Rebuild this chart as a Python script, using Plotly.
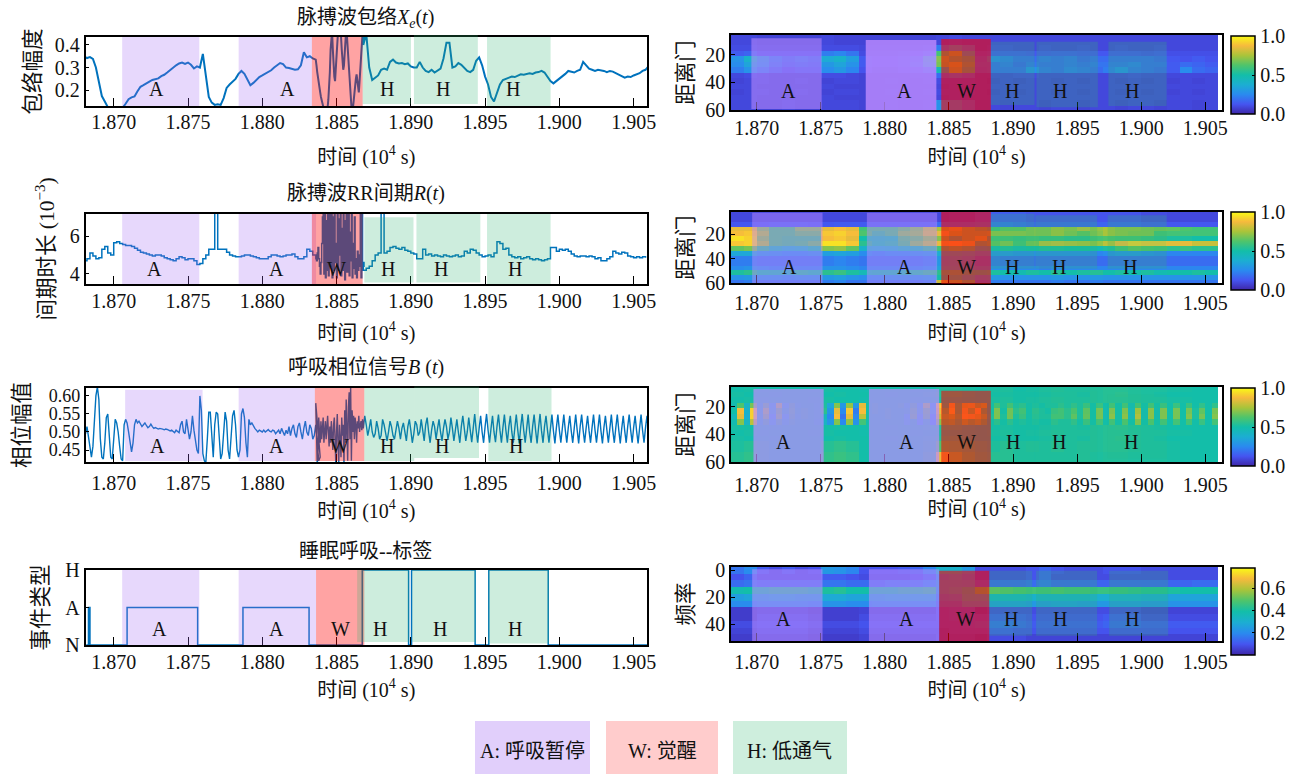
import numpy as np
import plotly.graph_objects as go

W_PX, H_PX = 1300, 774
FONT = "Liberation Serif, Noto Sans CJK SC"
LINE = "#0072BD"
PARULA = [[0, "#3e26a8"], [.125, "#4555f0"], [.25, "#2a8aef"], [.375, "#1caed2"], [.5, "#13bea9"],
          [.625, "#4fc46b"], [.75, "#a9c43a"], [.875, "#f6ba3d"], [1, "#f9fb15"]]
TICKS_T = [1.870, 1.875, 1.880, 1.885, 1.890, 1.895, 1.900, 1.905]
TICK_TEXT = ["1.870", "1.875", "1.880", "1.885", "1.890", "1.895", "1.900", "1.905"]

# ---- envelope X_e(t), thousandths
env_pre = [350,342,346,338,300,235,174,150,125,120,120,120,118,122,140,160,168,172,195,215,222,232,238,245,250,252,262,268,278,290,298,310,318,322,316,322,312,296,305,300,360,265,170,145,135,138,135,165,210,225,240,250,272,285,272,250,222,232,245,258,265,272,280,288,300,312,320,315,300,298,295,290,292,310,368,345,350,340,335]
env_w = [330,310,280,250,230,210,190,170,150,130,120,115,115,120,125,118,125,160,200,280,380,450,460,380,300,260,240,300,380,450,460,455,450,460,440,380,300,290,310,420,460,470,440,380,300,250,210,180,130,115,120,150,200,230,250,270,240,200,190,240,300,380,430,450,440,420]
env_post = [400,450,300,245,255,265,290,295,290,325,335,322,318,320,315,318,305,300,300,325,300,285,280,290,278,285,295,340,410,410,300,305,320,312,300,285,280,290,330,345,310,260,225,170,150,190,225,245,250,255,260,258,265,270,268,270,275,272,278,280,285,278,260,240,230,240,250,262,272,285,280,278,285,290,325,310,295,290,285,290,288,285,280,285,282,275,270,262,255,260,258,265,270,275,285,290,305,285]

# ---- RR interval R(t), hundredths of 1e-3
rr_pre = [470,480,510,495,480,485,530,545,510,500,565,570,560,555,550,550,545,535,525,515,510,505,500,495,500,500,495,485,480,475,470,480,490,485,475,480,480,470,450,455,480,500,530,530,800,530,530,530,515,500,495,490,490,495,500,500,495,490,485,480,480,480,490,500,500,495,490,495,500,500,505,490,480,480,490,530,520,500,480]
rr_w = [480,470,510,540,480,440,400,460,560,700,760,400,740,380,680,420,760,390,720,440,620,760,380,700,420,760,460,560,380,760,420,690,500,760,390,640,420,760,470,370,680,760,410,500,720,390,620,470,760,380,560,430,700,400,480,380,520,420,500,440,760,380,760,420,460,440]
rr_post = [420,430,440,470,500,510,800,510,520,540,545,535,530,540,525,520,510,505,480,480,530,500,505,495,500,495,490,500,495,490,495,500,490,495,520,510,530,525,510,500,490,495,500,490,510,570,560,530,535,500,490,485,490,480,485,490,480,475,480,475,470,475,480,540,540,520,530,525,530,520,505,495,490,495,495,490,495,490,480,485,470,470,480,490,520,510,505,515,510,495,490,485,490,485,490,485]

# ---- respiration phase B(t), thousandths
resp_pre = [510,495,515,490,455,430,460,530,600,625,590,480,430,425,470,540,550,490,430,425,480,535,525,500,460,425,420,520,535,525,500,470,445,470,520,535,525,530,520,515,520,525,518,512,515,522,515,510,512,510,508,510,510,508,506,508,507,505,503,505,500,498,505,500,498,520,530,500,495,535,500,480,500,545,505,470,450,440,600,560,440,420,415,480,555,555,500,430,520,555,550,470,425,440,510,555,530,450,425,480,545,560,520,450,430,450,550,565,540,470,430,535,520,525,515,510,505,500,505,503,500,505,500,503,507,502,500,505,503,495,500,505,495,510,500,490,505,495,515,490,510,520,495,485,515,525,500,480,510,530,500,490,520,510,480,490,520,470,420,430]
resp_w = [580,500,410,440,540,500,470,530,480,510,540,470,500,530,480,520,545,500,460,515,470,530,490,450,520,540,480,410,500,550,470,410,520,470,430,540,490,520,410,560,470,590,500,420,570,610,480,625,420,560,500,545,480,540,520,470,530,510,545,500,520,530,505,535,510,525]
resp_post = [545,520,490,510,535,500,485,495,530,510,480,490,535,520,495,475,500,530,515,490,480,505,530,510,480,510,525,500,475,515,535,505,470,495,530,520,490,500,535,505,475,520,540,500,470,505,530,515,480,510,535,500,475,510,535,515,480,500,540,510,475,505,535,500,470,515,545,510,475,500,540,505,472,510,550,505,470,510,545,500,470,515,550,505,470,510,545,500,472,515,548,505,470,512,548,505,470,515,545,500,470,510,548,505,468,515,550,505,470,510,548,500,470,515,548,505,468,512,550,503,470,515,545,505,470,510,548,503,468,512,548,505,470,510,548,505,470,512,545,503,470,510,548,505,468,515,548,505,470,510,545,503,470,512,548,505,470,510,548,503,468,512,545,505,470,510,548,503,470,512,548,505,468,510,545,503,470,515,548,505,470,512,545,503,468,510,548,505,470,512,545,503]

# ---- sleep apnea label trace
label_t = [1.86815,1.8683,1.8683,1.8684,1.8684,1.8709,1.8709,1.87565,1.87565,1.8787,1.8787,1.88315,1.88315,1.88673,1.88673,1.88985,1.88985,1.89005,1.89005,1.89433,1.89433,1.89525,1.89525,1.89925,1.89925,1.9059]
label_v = [0,0,1,1,0,0,1,1,0,0,1,1,0,0,2,2,0,0,2,2,0,0,2,2,0,0]

# ---- shaded events, left column: (start, end, bottom, top) in axis fractions
left_A = [[(1.87057,1.87576,0,1),(1.87841,1.88334,0,1)],
          [(1.87057,1.87576,0,1),(1.87841,1.88362,0,1)],
          [(1.87077,1.87598,.014,.975),(1.87841,1.88354,.014,1)],
          [(1.87057,1.87576,0,1),(1.87841,1.88362,0,1)]]
left_W = [[(1.88334,1.88676,0,1)],[(1.88334,1.88676,0,1)],[(1.88354,1.88687,.014,1)],[(1.88362,1.88687,0,1)]]
left_H = [[(1.88676,1.89001,.03,1),(1.89021,1.89451,.03,1.03),(1.89513,1.89941,0,1)],
          [(1.88687,1.89018,.02,.955),(1.89038,1.89468,.02,1),(1.89513,1.89941,0,1)],
          [(1.88687,1.89023,.014,1),(1.89023,1.89459,.054,1.02),(1.89522,1.89947,.014,1)],
          [(1.88639,1.88989,.04,1),(1.89009,1.89437,.04,1),(1.89522,1.89930,.02,1)]]
# right column, with opacity as last element
right_A = [[(1.86959,1.87507,.013,.956,.55),(1.87851,1.88402,0,.933,.8)],
           [(1.86965,1.87514,0,.99,.45),(1.87860,1.88408,0,.99,.45)],
           [(1.86975,1.87523,0,.973,.7),(1.87876,1.88424,0,.973,.7)],
           [(1.86965,1.87514,0,.97,.55),(1.87876,1.88424,0,.97,.55)]]
right_W = [[(1.88440,1.88827,0,.947,.58)],[(1.88440,1.88827,-.01,1,.58)],[(1.88440,1.88827,0,.95,.55)],[(1.88424,1.88815,0,.95,.58)]]
right_H = [[(1.88827,1.89168,.067,.91,.25),(1.89183,1.89662,.036,.91,.25),(1.89744,1.90198,.053,.91,.25)],
           [(1.88827,1.89168,.2,.977,.25),(1.89174,1.89656,.2,.953,.25),(1.89738,1.90198,.2,.953,.25)],
           [(1.88827,1.89168,0,.95,.08),(1.89174,1.89656,0,.95,.08),(1.89738,1.90198,.05,.9,.08)],
           [(1.88815,1.89149,.07,.95,.25),(1.89180,1.89656,.07,.95,.25),(1.89750,1.90210,.07,.95,.25)]]

# ---- event letters: (text, time) per panel, height as axis fraction
ltext_t = [[("A",1.87285),("A",1.88168),("H",1.88838),("H",1.89217),("H",1.89687)],
           [("A",1.87274),("A",1.88097),("W",1.88501),("H",1.88846),("H",1.89200),("H",1.89702)],
           [("A",1.87294),("A",1.88097),("W",1.88522),("H",1.88841),("H",1.89211),("H",1.89707)],
           [("A",1.87311),("A",1.88097),("W",1.88528),("H",1.88795),("H",1.89194),("H",1.89699)]]
ltext_y = [.25,.21,.22,.21]
rtext_t = [[("A",1.87249),("A",1.88150),("W",1.88638),("H",1.88995),("H",1.89367),("H",1.89927)],
           [("A",1.87258),("A",1.88153),("W",1.88638),("H",1.88995),("H",1.89360),("H",1.89915)],
           [("A",1.87211),("A",1.88166),("W",1.88638),("H",1.88998),("H",1.89360),("H",1.89918)],
           [("A",1.87211),("A",1.88166),("W",1.88626),("H",1.88985),("H",1.89363),("H",1.89931)]]
rtext_y = [.25,.22,.27,.3]

# ---- heat maps, columns centred on these times, values in percent of the colour range
hm_t38 = [1.8685,1.8695,1.8705,1.8715,1.8725,1.8735,1.8745,1.8755,1.8765,1.8775,1.8785,1.8795,1.8805,1.8815,1.8825,1.8835,1.8845,1.8855,1.8865,1.8875,1.8885,1.8895,1.8905,1.8915,1.8925,1.8935,1.8945,1.8955,1.8965,1.8975,1.8985,1.8995,1.9005,1.9015,1.9025,1.9035,1.9045,1.9055]
hm_t76 = [1.86825,1.86875,1.86925,1.86975,1.87025,1.87075,1.87125,1.87175,1.87225,1.87275,1.87325,1.87375,1.87425,1.87475,1.87525,1.87575,1.87625,1.87675,1.87725,1.87775,1.87825,1.87875,1.87925,1.87975,1.88025,1.88075,1.88125,1.88175,1.88225,1.88275,1.88325,1.88375,1.88425,1.88475,1.88525,1.88575,1.88625,1.88675,1.88725,1.88775,1.88825,1.88875,1.88925,1.88975,1.89025,1.89075,1.89125,1.89175,1.89225,1.89275,1.89325,1.89375,1.89425,1.89475,1.89525,1.89575,1.89625,1.89675,1.89725,1.89775,1.89825,1.89875,1.89925,1.89975,1.90025,1.90075,1.90125,1.90175,1.90225,1.90275,1.90325,1.90375,1.90425,1.90475,1.90525,1.90575]

p1_y = [7,11,15,19,23,27,31,35,39,43,47,51,55,59]
p1_q1 = [9,9,8,8,8,8,8,9,8,8,8,8,8,8,8,8,9,10,9,9,9,9,9,9,9,9,9,9,9,9,9,9,9,9,9,9,9,9]
p1_q2 = [8,9,9,8,8,9,8,8,9,9,8,8,9,8,8,9,10,10,10,9,8,9,8,9,9,8,9,8,9,9,8,9,8,9,8,9,8,9]
p1_15 = [10,10,9,9,9,9,9,10,10,10,9,9,9,9,9,10,22,30,22,9,10,10,9,9,10,9,9,10,9,9,10,9,9,10,9,9,9,9]
p1_19 = [14,16,12,12,12,12,12,22,24,20,10,10,10,11,12,16,60,70,40,12,14,14,14,13,13,14,14,13,13,13,13,13,12,13,11,11,11,11]
p1_23 = [28,40,30,22,18,20,18,36,40,32,14,12,12,14,18,45,70,62,55,16,24,22,18,18,20,18,20,16,18,18,18,18,18,16,13,12,14,12]
p1_27 = [26,34,28,20,16,18,16,30,34,28,14,12,12,14,20,40,68,74,60,18,18,20,16,20,18,18,20,18,20,20,20,22,18,18,14,18,16,14]
p1_31 = [22,28,22,16,12,14,14,26,30,24,12,10,10,12,14,20,45,70,55,16,18,18,18,26,20,18,22,20,18,22,26,20,18,16,14,26,18,16]
p1_35 = [9,10,9,8,8,8,8,10,10,9,8,8,8,8,9,9,18,22,18,9,9,9,10,10,9,9,9,9,9,9,9,10,9,9,9,9,9,9]
p1_55 = [9,9,8,8,9,8,8,9,9,9,8,8,9,8,8,9,28,25,18,9,9,8,9,9,8,9,9,8,9,9,8,9,9,8,9,9,8,9]
p1 = [p1_q1,p1_q1,p1_15,p1_19,p1_23,p1_27,p1_31,p1_35,p1_q2,p1_q1,p1_q2,p1_q1,p1_55,p1_55]

p2_y = [4,8,12,16,20,24,28,32,36,40,44,48,52,56,60]
p2_04 = [9,9,9,9,9,9,9,9,9,9,9,9,9,9,9,9,9,10,10,14,14,14,14,12,12,12,12,12,12,12,12,12,10,10,9,9,9,9]
p2_12 = [13,13,13,14,14,14,13,13,14,14,14,14,14,14,14,14,18,18,18,20,20,20,18,16,16,16,16,16,16,16,16,16,14,14,13,13,13,13]
p2_16 = [85,85,70,60,60,70,70,85,88,85,60,60,60,65,70,80,75,80,70,65,60,65,65,70,70,75,72,78,72,75,72,72,70,68,65,62,60,60]
p2_20 = [88,90,75,60,60,65,65,90,92,88,62,55,60,70,72,82,85,75,70,70,72,72,72,70,70,75,70,65,70,75,72,70,70,60,60,60,60,60]
p2_24 = [95,92,70,60,58,58,58,88,90,85,50,48,50,62,65,72,70,60,70,78,60,60,58,60,58,58,55,55,60,62,60,60,58,55,52,52,50,50]
p2_28 = [90,92,75,60,58,60,65,95,95,90,55,50,52,60,70,78,85,88,82,60,65,70,60,68,78,80,78,76,72,78,88,92,90,90,84,85,80,80]
p2_32 = [65,68,55,45,40,42,50,70,72,65,40,38,40,45,48,55,60,65,60,45,48,52,48,50,52,52,50,50,48,52,60,65,62,60,55,58,55,55]
p2_36 = [35,35,30,28,26,26,28,32,34,32,26,24,26,26,28,30,38,38,35,28,28,28,26,26,26,26,26,26,24,26,28,28,26,24,24,24,24,24]
p2_40 = [22,22,20,20,20,20,20,22,24,22,20,20,20,20,20,22,30,32,28,20,20,18,18,18,18,18,18,18,18,18,18,18,18,18,18,18,18,18]
p2_48 = [26,28,26,24,24,24,24,28,28,26,24,24,24,24,24,26,34,34,32,26,26,24,24,24,22,24,24,24,24,24,24,24,24,24,24,24,24,24]
p2_52 = [52,55,50,48,46,52,50,55,58,52,46,48,48,50,52,55,55,58,52,50,52,50,48,52,50,54,50,52,54,50,52,50,52,48,50,50,52,50]
p2_56 = [28,30,28,28,26,28,28,30,32,28,26,26,28,28,28,30,50,52,40,28,30,28,28,28,28,30,28,28,30,28,28,28,28,28,28,28,28,28]
p2_60 = [20,22,20,20,20,20,20,22,24,20,20,20,20,20,20,22,80,70,60,20,22,20,20,20,20,22,20,20,22,20,20,20,20,20,20,20,20,20]
p2 = [p2_04,p2_04,p2_12,p2_16,p2_20,p2_24,p2_28,p2_32,p2_36,p2_40,p2_40,p2_48,p2_52,p2_56,p2_60]

p3_y = [7,11,15,19,23,27,31,35,39,43,47,51,55,59]
p3_qa = [50,51,49,50,50,50,49,51,50,50,49,50,50,50,49,50,52,52,51,50,51,52,50,51,52,53,52,52,53,54,54,53,52,52,51,51,50,50]
p3_qb = [51,50,50,49,50,50,50,50,51,50,50,50,49,50,50,51,54,55,52,50,50,51,50,50,51,52,52,51,53,54,55,53,52,51,50,50,50,50]
p3_qc = [52,54,52,50,50,50,50,54,56,54,50,50,50,50,50,52,62,60,58,54,52,54,52,53,52,54,52,53,53,54,54,53,52,52,51,50,50,50]
p3_qd = [54,56,52,50,50,50,50,56,58,56,50,50,50,50,50,54,85,70,62,56,54,54,52,52,52,52,52,53,52,53,53,52,52,52,51,50,50,50]
p3_19 = [48,62,42,68,45,60,40,72,42,55,48,50,50,48,52,35,70,30,72,30,85,50,52,50,50,50,52,45,55,40,70,35,90,55,85,60,80,82,70,75,50,60,52,60,52,55,50,52,50,52,52,55,52,56,52,58,50,58,50,60,50,60,48,60,50,60,50,58,50,58,50,58,50,56,50,56]
p3_23 = [50,88,40,92,45,70,42,62,48,56,50,52,50,48,55,30,85,25,90,22,88,50,52,50,52,50,50,48,58,42,62,38,85,65,90,60,85,70,88,62,50,70,50,68,55,60,50,55,52,50,58,60,55,62,52,65,50,68,48,70,50,70,45,75,48,72,48,70,50,68,50,68,52,65,50,68]
p3_27 = [45,85,38,92,45,65,35,65,40,55,48,52,50,48,45,25,88,20,85,25,78,50,50,50,52,50,50,40,60,35,60,30,80,70,75,65,88,85,80,70,52,70,52,68,52,58,50,54,52,52,60,60,55,65,52,66,50,68,48,72,50,72,45,78,48,72,48,70,50,68,50,70,52,68,50,70]
p3_31 = [48,70,42,78,45,55,40,55,45,52,50,50,50,46,42,30,70,25,72,28,60,50,50,50,50,50,50,42,50,35,48,30,70,65,68,60,72,65,70,62,50,55,50,55,50,52,50,52,50,50,55,52,52,56,50,58,50,60,50,60,50,62,50,70,50,62,50,60,50,60,50,60,50,58,50,60]
p3_layout = ["qa","qb","qa","19","23","27","31","qb","qa","qb","qc","qc","qd","qd"]

p4_y = [0,5,10,15,20,25,30,35,40,45,50]
p4_00 = [20,26,14,10,14,10,12,30,28,24,12,12,12,14,16,24,40,40,30,10,10,10,10,12,16,12,10,10,10,12,12,12,10,10,10,10,10,10]
p4_05 = [12,16,10,10,10,10,10,14,14,12,10,10,10,10,12,16,26,30,24,10,10,10,10,12,16,10,10,10,10,10,10,10,10,10,10,10,10,10]
p4_10 = [18,20,18,18,18,18,18,20,20,18,18,18,20,20,20,24,30,30,28,16,16,16,16,18,20,16,16,16,16,16,16,16,16,16,16,16,18,18]
p4_15 = [48,50,50,52,52,52,50,52,54,50,50,50,50,52,52,54,30,34,44,62,66,64,62,60,60,62,60,60,58,58,58,56,54,54,52,50,50,50]
p4_20 = [32,34,34,36,36,34,34,36,36,34,34,34,36,36,36,36,24,26,40,38,42,42,42,40,40,40,40,40,38,38,38,38,36,36,34,34,34,34]
p4_25 = [26,26,28,28,28,28,26,28,28,26,26,28,28,28,28,28,20,20,30,30,32,32,32,30,30,32,32,30,30,30,30,30,28,28,28,28,28,28]
p4_30 = [6,6,8,8,8,8,6,7,7,7,8,8,8,8,8,8,12,14,14,8,10,10,10,10,10,10,10,10,10,10,10,10,8,8,8,8,8,8]
p4_35 = [6,6,10,10,10,10,8,7,7,7,10,10,10,10,10,10,12,14,14,12,14,14,14,12,12,12,12,12,12,14,14,14,10,10,10,10,10,10]
p4_40 = [10,10,12,12,12,12,10,10,10,10,12,12,12,12,12,12,12,12,14,16,18,18,16,14,14,14,14,14,14,16,16,16,14,14,14,14,14,14]
p4_45 = [8,8,10,10,10,10,8,8,8,8,10,10,10,10,10,10,10,12,12,12,14,14,12,12,12,12,12,12,12,12,12,12,12,12,12,12,12,12]
p4_50 = [6,6,8,8,8,8,6,6,6,6,8,8,8,8,8,8,10,10,10,8,10,10,10,8,8,8,8,8,8,8,8,8,8,8,8,8,8,8]
p4 = [p4_00,p4_05,p4_10,p4_15,p4_20,p4_25,p4_30,p4_35,p4_40,p4_45,p4_50]

legend_items = ["A: 呼吸暂停", "W: 觉醒", "H: 低通气"]
legend_boxes = [(475, 590, "#E1CFFB"), (606, 718, "#FFCCCC"), (733, 847, "#CEEEDD")]
titles = ["脉搏波包络<i>X<sub>e</sub></i>(<i>t</i>)", "脉搏波RR间期<i>R</i>(<i>t</i>)",
          "呼吸相位信号<i>B</i> (<i>t</i>)", "睡眠呼吸--标签"]
title_px = [19, 193, 367, 551]
xtitle = "时间 (10<sup>4</sup> s)"


def seg(pre, w, post):
    t = np.r_[1.8680 + 0.0002 * np.arange(len(pre)),
              1.8836 + 0.00005 * np.arange(len(w)),
              1.8868 + 0.0002 * np.arange(len(post))]
    return t, np.r_[pre, w, post]


def seg_resp(pre, w, post):
    t = np.r_[1.8680 + 0.0001 * np.arange(len(pre)),
              1.8836 + 0.00005 * np.arange(len(w)),
              1.8869 + 0.0001 * np.arange(len(post))]
    return t, np.r_[pre, w, post]


env_t, env_v = seg(env_pre, env_w, env_post)
rr_t, rr_v = seg(rr_pre, rr_w, rr_post)
resp_t, resp_v = seg_resp(resp_pre, resp_w, resp_post)

fig = go.Figure()
shapes, notes = [], []
layout = {}

L_X, R_X = (85.5, 647), (731, 1222)
L_ROWS = [(37, 106), (214, 284), (388, 462), (570, 645)]
R_ROWS = [(35, 110), (212, 283), (387, 462), (567, 641)]
CB_ROWS = [(36, 114), (212, 290), (388, 466), (568, 655)]
px_x = lambda a, b: [a / W_PX, b / W_PX]
px_y = lambda top, bot: [1 - bot / H_PX, 1 - top / H_PX]
ax_id = lambda k: "" if k == 1 else str(k)

line_series = [(env_t, env_v / 1000, "linear", 2.0), (rr_t, rr_v / 100, "hv", 1.5),
               (resp_t, resp_v / 1000, "linear", 1.4), (np.array(label_t), np.array(label_v), "linear", 1.5)]
y_ranges = [[.13, .435], [3.47, 7.16], [.4167, .622], [0, 2]]
y_ticks = [[.2, .3, .4], [4, 6], [.45, .5, .55, .6], [0, 1, 2]]
y_text = [["0.2", "0.3", "0.4"], ["4", "6"], ["0.45", "0.50", "0.55", "0.60"], ["N", "A", "H"]]
y_titles = ["包络幅度", "间期时长 (10<sup>−3</sup>)", "相位幅值", "事件类型"]
L_xstand = [-3, -2, 2, -2]
L_title_stand = [18, 15, 11, 11]
L_ystand = [8, 9, 13, 11]
y_tick_size = [20, 20, 18, 20]

base_font = dict(family=FONT, size=20, color="#111")
ytitle_font = dict(family=FONT, size=21.5, color="#111")
axis_common = dict(showline=True, linecolor="black", linewidth=1.5, mirror=True, showgrid=False, zeroline=False,
                   ticks="inside", tickcolor="black", tickfont=base_font, automargin=False)

for i in range(4):
    aid = ax_id(i + 1)
    xn, yn = f"x{aid}", f"y{aid}"
    t, v, shp, w = line_series[i]
    fig.add_trace(go.Scatter(x=t, y=v, mode="lines", line=dict(color=LINE, width=w, shape=shp), xaxis=xn, yaxis=yn,
                             showlegend=False, hoverinfo="skip"))
    layout[f"xaxis{aid}"] = dict(axis_common, domain=px_x(*L_X), range=[1.8681, 1.9059], anchor=yn, tickvals=TICKS_T,
                                 ticktext=TICK_TEXT, ticklen=8, tickwidth=1.3, ticklabelstandoff=L_xstand[i],
                                 title=dict(text=xtitle, font=base_font, standoff=L_title_stand[i]))
    layout[f"yaxis{aid}"] = dict(axis_common, domain=px_y(*L_ROWS[i]), range=y_ranges[i], anchor=xn, tickvals=y_ticks[i],
                                 ticktext=y_text[i], ticklen=4, tickwidth=1.3,
                                 tickfont=dict(family=FONT, size=y_tick_size[i], color="#111"),
                                 title=dict(text=y_titles[i], font=ytitle_font, standoff=L_ystand[i]))
    for group, (r, g, b, al) in ((left_A[i], (160, 100, 245, .25)), (left_W[i], (255, 0, 0, .36)),
                                 (left_H[i], (46, 178, 111, .24))):
        for s in group:
            shapes.append(dict(type="rect", xref=xn, yref=f"{yn} domain", x0=s[0], x1=s[1], y0=s[2], y1=s[3],
                               fillcolor=f"rgba({r},{g},{b},{al})", line_width=0, layer="above"))
    for txt, tt in ltext_t[i]:
        notes.append(dict(text=txt, x=tt, y=ltext_y[i], xref=xn, yref=f"{yn} domain", showarrow=False, font=base_font,
                          xanchor="center", yanchor="middle"))
    notes.append(dict(text=titles[i], x=366 / W_PX, y=1 - title_px[i] / H_PX, xref="paper", yref="paper", showarrow=False,
                      font=base_font, xanchor="center", yanchor="middle"))

# heat maps
rows3 = {"qa": np.repeat(p3_qa, 2), "qb": np.repeat(p3_qb, 2), "qc": np.repeat(p3_qc, 2), "qd": np.repeat(p3_qd, 2),
         "19": np.array(p3_19), "23": np.array(p3_23), "27": np.array(p3_27), "31": np.array(p3_31)}
p3m = [rows3[k] for k in p3_layout]
heat_data = [(hm_t38, p1_y, np.array(p1) / 100, [60, 5.5], [20, 40, 60], 1.0, [0, .5, 1]),
             (hm_t38, p2_y, np.array(p2) / 100, [60, 2], [20, 40, 60], 1.0, [0, .5, 1]),
             (hm_t76, p3_y, np.array(p3m) / 100, [60, 5.5], [20, 40, 60], 1.0, [0, .5, 1]),
             (hm_t38, p4_y, np.array(p4) / 100 * .78, [52.5, -2.5], [0, 20, 40], .78, [.2, .4, .6])]
R_xstand = [-1, 1, 4, 2]
R_title_stand = [12, 13, 5, 11]
y_title_r = ["距离门", "距离门", "距离门", "频率"]
for i, (ht, hy, hz, yr, yt, zmax, cbt) in enumerate(heat_data):
    k = i + 5
    xn, yn = f"x{k}", f"y{k}"
    cb_top, cb_bot = CB_ROWS[i]
    fig.add_trace(go.Heatmap(x=ht, y=hy, z=hz, colorscale=PARULA, zmin=0, zmax=zmax, xaxis=xn, yaxis=yn, hoverinfo="skip",
                             colorbar=dict(x=1231 / W_PX, xanchor="left", xpad=0, ypad=0, y=1 - cb_bot / H_PX, yanchor="bottom",
                                           lenmode="pixels", len=cb_bot - cb_top, thicknessmode="pixels", thickness=24,
                                           outlinecolor="black", outlinewidth=1.5, tickvals=cbt, tickformat=".1f",
                                           ticks="inside", ticklen=3, tickcolor="black", tickfont=base_font)))
    layout[f"xaxis{k}"] = dict(axis_common, domain=px_x(*R_X), range=[1.868, 1.9063], anchor=yn, tickvals=TICKS_T,
                               ticktext=TICK_TEXT, ticklen=8, tickwidth=1.3, ticklabelstandoff=R_xstand[i],
                               title=dict(text=xtitle, font=base_font, standoff=R_title_stand[i]))
    layout[f"yaxis{k}"] = dict(axis_common, domain=px_y(*R_ROWS[i]), range=yr, anchor=xn, tickvals=yt, ticklen=4, tickwidth=1.3,
                               title=dict(text=y_title_r[i], font=ytitle_font, standoff=6))
    for group, col in ((right_A[i], (190, 140, 255)), (right_W[i], (255, 0, 0)), (right_H[i], (46, 178, 111))):
        for s in group:
            shapes.append(dict(type="rect", xref=xn, yref=f"{yn} domain", x0=s[0], x1=s[1], y0=s[2], y1=s[3],
                               fillcolor=f"rgba({col[0]},{col[1]},{col[2]},{s[4]})", line_width=0, layer="above"))
    for txt, tt in rtext_t[i]:
        notes.append(dict(text=txt, x=tt, y=rtext_y[i], xref=xn, yref=f"{yn} domain", showarrow=False, font=base_font,
                          xanchor="center", yanchor="middle"))

for (x0, x1, col), txt in zip(legend_boxes, legend_items):
    shapes.append(dict(type="rect", xref="paper", yref="paper", x0=x0 / W_PX, x1=x1 / W_PX, y0=0, y1=1 - 721 / H_PX,
                       fillcolor=col, line_width=0, layer="below"))
    notes.append(dict(text=txt, x=(x0 + x1) / 2 / W_PX, y=1 - 751 / H_PX, xref="paper", yref="paper", showarrow=False,
                      font=base_font, xanchor="center", yanchor="middle"))

fig.update_layout(width=W_PX, height=H_PX, margin=dict(l=0, r=0, t=0, b=0), plot_bgcolor="white", paper_bgcolor="white",
                  font=base_font, shapes=shapes, annotations=notes, showlegend=False, **layout)
fig.write_html("out.html", config={"displayModeBar": False},
               post_script="document.body.style.margin='0';document.documentElement.style.overflow='hidden';")
